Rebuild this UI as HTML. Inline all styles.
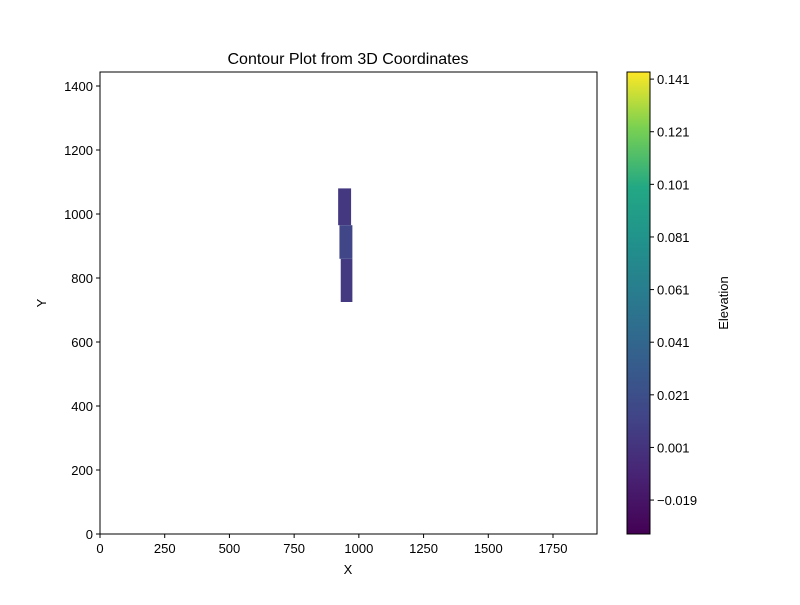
<!DOCTYPE html>
<html><head><meta charset="utf-8"><style>
body{margin:0;background:#fff;}
svg text{font-family:"Liberation Sans",sans-serif;font-size:13px;fill:#000;}
</style></head><body>
<svg id="c" width="800" height="600" xmlns="http://www.w3.org/2000/svg">
<defs><linearGradient id="vir" x1="0" y1="1" x2="0" y2="0">
<stop offset="0" stop-color="#440154"/><stop offset="0.13" stop-color="#482475"/><stop offset="0.25" stop-color="#414487"/><stop offset="0.38" stop-color="#355f8d"/><stop offset="0.5" stop-color="#2a788e"/><stop offset="0.63" stop-color="#21918c"/><stop offset="0.75" stop-color="#22a884"/><stop offset="0.88" stop-color="#7ad151"/><stop offset="1" stop-color="#fde725"/></linearGradient></defs>
<text x="348" y="64" text-anchor="middle" style="font-size:16px">Contour Plot from 3D Coordinates</text>
<g id="plot"></g>
<rect x="100" y="72" width="497" height="462" fill="none" stroke="#000" stroke-width="1"/>
<text x="348" y="574" text-anchor="middle">X</text>
<text x="46" y="303" text-anchor="middle" transform="rotate(-90 46 303)">Y</text>
<rect x="627" y="72" width="23" height="462" fill="url(#vir)" stroke="#000" stroke-width="1"/>
<text x="728" y="303" text-anchor="middle" transform="rotate(-90 728 303)">Elevation</text>
</svg>
<script>
const xTicks=[0,250,500,750,1000,1250,1500,1750];
const yTicks=[0,200,400,600,800,1000,1200,1400];
const cTicks=[-0.019,0.001,0.021,0.041,0.061,0.081,0.101,0.121,0.141];
const patchX0=[920,925,930];
const patchX1=[970,975,975];
const patchY0=[965,860,725];
const patchY1=[1080,965,860];
const patchZ=[0.004,0.014,0.005];
const X=v=>100+v*(497/1920);
const Y=v=>534-v*(462/1443.75);
const cMin=-0.0319,cMax=0.1437;
const C=v=>534-(v-cMin)/(cMax-cMin)*462;
const vir=[[68,1,84],[72,36,117],[65,68,135],[53,95,141],[42,120,142],[33,145,140],[34,168,132],[122,209,81],[253,231,37]];
function col(v){let t=(v-cMin)/(cMax-cMin)*8;let i=Math.max(0,Math.min(7,Math.floor(t)));let f=t-i;const a=vir[i],b=vir[i+1];return 'rgb('+a.map((x,k)=>Math.round(x+(b[k]-x)*f)).join(',')+')';}
const svg=document.getElementById('c'),plot=document.getElementById('plot');
const NS='http://www.w3.org/2000/svg';
function mk(t,at,p){const e=document.createElementNS(NS,t);for(const k in at)e.setAttribute(k,at[k]);(p||svg).appendChild(e);return e;}
patchZ.forEach((z,i)=>{const r=mk('rect',{x:X(patchX0[i]),y:Y(patchY1[i]),width:X(patchX1[i])-X(patchX0[i]),height:Y(patchY0[i])-Y(patchY1[i]),fill:col(z)},plot);

});
xTicks.forEach(v=>{const x=X(v);const l=mk('line',{x1:x,x2:x,y1:534,y2:538,stroke:'#000'});


const t=mk('text',{x:x,y:553,'text-anchor':'middle'});t.textContent=v;

});
yTicks.forEach(v=>{const y=Y(v);const l=mk('line',{x1:96,x2:100,y1:y,y2:y,stroke:'#000'});


const t=mk('text',{x:93,y:y+5,'text-anchor':'end'});t.textContent=v;

});
cTicks.forEach(v=>{const y=C(v);const l=mk('line',{x1:650,x2:654,y1:y,y2:y,stroke:'#000'});


const t=mk('text',{x:657,y:y+5});t.textContent=(v<0?'\u2212'+(-v):String(v));

});
</script>
</body></html>
